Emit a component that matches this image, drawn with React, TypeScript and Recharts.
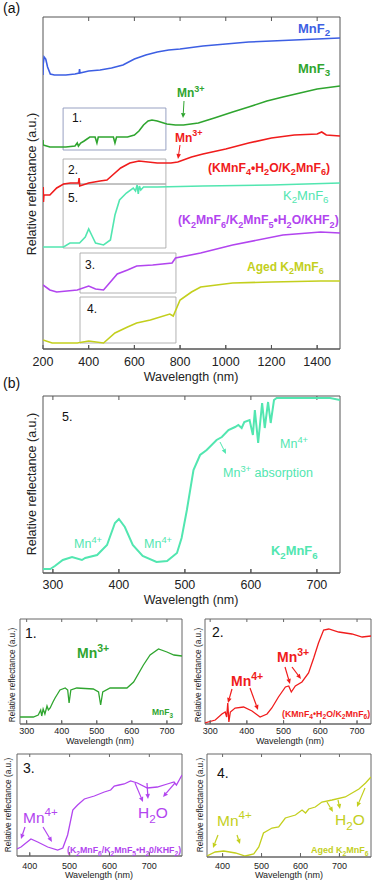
import React from "react";
import { LineChart, Line, XAxis, YAxis, ReferenceArea, ReferenceLine } from "recharts";

const FONT = '"Liberation Sans", Arial, Helvetica, sans-serif';
const BLUE = "#3d5fe3";
const GREEN = "#2fa52f";
const RED = "#f01c1c";
const MINT = "#52e6b0";
const PURPLE = "#b245ef";
const OLIVE = "#c3cf1d";

// (a) full range: [wavelength nm, relative reflectance (offset, a.u.)]
const aTicks = [200, 400, 600, 800, 1000, 1200, 1400];
const aMnF2 = [[200,27.4],[201,28.5],[205,29.2],[212,29.0],[220,28.2],[232,27.5],[250,27.4],[300,27.4],[340,27.5],[358,27.6],[360,28.0],[362,27.6],[400,27.8],[450,27.9],[500,28.1],[550,28.4],[600,29.0],[650,29.4],[700,29.7],[750,29.9],[800,30.0],[900,30.3],[1000,30.5],[1100,30.7],[1200,30.8],[1300,30.9],[1400,31.0],[1500,31.1]];
const aMnF3 = [[200,20.9],[201,20.4],[230,20.2],[300,20.2],[340,20.3],[350,20.6],[355,20.3],[365,20.6],[380,20.8],[405,21.2],[428,21.2],[436,20.6],[442,21.2],[480,21.2],[508,21.2],[515,20.6],[522,21.2],[570,21.2],[600,21.4],[620,21.8],[640,22.4],[660,22.8],[677,22.9],[700,22.8],[742,22.5],[780,22.4],[815,22.4],[880,22.6],[950,23.1],[1030,23.7],[1100,24.2],[1180,24.8],[1250,25.2],[1325,25.6],[1400,26.0],[1500,26.3]];
const aKMnF4 = [[200,15.4],[201,16.2],[202,14.7],[204,15.4],[230,15.4],[260,16.1],[290,16.5],[320,16.6],[355,16.6],[358,17.1],[361,16.3],[400,16.6],[450,16.8],[480,16.9],[500,17.3],[540,18.1],[580,18.6],[620,18.8],[700,18.6],[760,18.6],[790,18.7],[850,19.2],[900,19.5],[1000,20.0],[1100,20.6],[1200,21.1],[1300,21.4],[1400,21.5],[1420,21.7],[1440,21.4],[1500,21.3]];
const aK2MnF6 = [[200,10.2],[290,10.2],[318,10.6],[360,10.6],[385,11.2],[400,12.0],[415,11.3],[430,10.6],[465,10.4],[495,10.9],[515,13.4],[535,14.9],[565,15.6],[595,16.1],[605,15.8],[612,16.4],[617,15.5],[622,16.3],[628,15.9],[640,16.2],[700,16.2],[900,16.3],[1200,16.4],[1500,16.6]];
const aMixed = [[200,6.4],[230,5.9],[260,5.7],[350,5.9],[400,6.3],[430,6.0],[465,5.9],[495,6.7],[525,7.5],[570,7.9],[610,8.3],[680,8.4],[765,8.6],[780,9.1],[890,9.6],[1030,10.4],[1250,11.4],[1415,11.7],[1500,11.6]];
const aAged = [[200,0.9],[240,0.6],[350,0.6],[400,0.8],[465,0.6],[515,1.6],[570,2.2],[610,2.6],[670,2.9],[755,3.5],[770,3.3],[800,4.9],[850,5.7],[890,6.2],[1030,6.6],[1200,6.7],[1415,6.8],[1500,6.8]];
// zoom windows drawn in (a): [nm from, nm to, low, high]
const zoomBoxes = [[288,738,19.9,24.1],[288,738,16.5,19.0],[288,738,10.1,16.5],[362,782,5.6,9.6],[362,782,0.6,5.2]];

// (b) K2MnF6 visible range
const bTicks = [300, 400, 500, 600, 700];
const bK2MnF6 = [[285,0.4],[296,0.4],[303,0.7],[315,1.3],[329,1.6],[344,1.3],[349,1.5],[367,1.8],[382,2.8],[394,5.0],[400,5.4],[409,4.6],[421,2.8],[436,1.7],[457,1.1],[473,1.2],[488,2.0],[495,3.5],[503,6.3],[513,10.3],[523,11.8],[533,12.3],[548,13.3],[556,13.6],[566,14.3],[576,14.6],[581,14.8],[586,14.5],[590,15.1],[598,15.3],[603,13.8],[606,16.3],[611,13.0],[617,17.0],[621,14.5],[626,17.1],[630,15.0],[635,17.3],[639,17.5],[680,17.5],[720,17.5],[735,17.3]];

// small panels 1-4
const sTicks12 = [300, 400, 500, 600, 700];
const sTicks34 = [400, 500, 600, 700];
const p1MnF3 = [[281,0.7],[319,0.7],[333,0.9],[340,1.4],[343,0.8],[347,1.5],[352,1.0],[358,1.8],[362,1.4],[367,1.6],[375,2.2],[381,2.6],[388,3.0],[395,3.4],[410,3.6],[417,3.4],[421,2.1],[426,3.4],[443,3.6],[490,3.5],[505,3.2],[511,1.9],[517,3.2],[538,3.6],[586,3.6],[605,4.2],[633,5.9],[652,6.9],[676,7.5],[700,7.2],[720,6.9],[743,6.8]];
const p2KMnF4 = [[286,0.1],[314,0.4],[332,1.0],[341,1.2],[345,0.7],[348,2.1],[351,0.2],[355,1.2],[368,1.6],[391,1.7],[414,1.3],[436,0.7],[455,1.0],[468,1.6],[486,2.7],[505,3.7],[514,3.8],[521,3.2],[532,3.8],[550,4.2],[568,5.1],[582,6.6],[595,8.1],[609,9.4],[623,9.5],[650,9.2],[686,9.0],[714,8.7],[738,8.8]];
const p3Mixed = [[368,0.7],[378,0.9],[403,1.7],[420,1.4],[445,0.9],[470,0.6],[483,0.8],[495,2.1],[508,4.6],[520,5.1],[537,5.7],[562,6.0],[587,6.4],[603,6.6],[612,7.0],[624,7.1],[637,7.2],[653,7.5],[670,7.3],[695,6.8],[720,6.9],[745,7.2],[762,7.4],[768,7.1],[782,8.1]];
const p4Aged = [[360,0.1],[381,0.5],[403,0.6],[433,0.4],[458,0.1],[480,0.3],[493,1.0],[505,2.4],[527,2.9],[544,3.0],[561,3.9],[587,4.2],[604,4.7],[613,4.4],[621,4.8],[638,5.0],[655,5.5],[681,5.7],[715,6.0],[750,6.8],[767,7.4],[781,8.0]];

type Pts = number[][];
const rows = (pts: Pts) => pts.map(([nm, r]) => ({ nm, r }));

function Panel(props: {
  left: number; top: number; w: number; h: number;
  domain: [number, number]; ticks: number[]; yMax: number;
  series: { pts: Pts; color: string }[];
  lw: number; fs: number; tm: number; axisH: number; frame: string; tickLen: number;
  children?: React.ReactNode;
}) {
  const { left, top, w, h, domain, ticks, yMax, series, lw, fs, tm, axisH, frame, tickLen, children } = props;
  const padX = 20;
  const padT = 3;
  const tl = (yMax * tickLen) / h;
  const inner = ticks.filter((t) => t > domain[0] && t < domain[1]);
  return (
    <div style={{ position: "absolute", left: left - padX, top: top - padT }}>
      <LineChart width={w + padX * 2} height={h + padT + axisH} margin={{ top: padT, right: padX, bottom: 0, left: padX }}>
        <XAxis xAxisId="b" type="number" dataKey="nm" domain={domain} ticks={ticks} interval={0} allowDataOverflow
          height={axisH} tickSize={-4} tickMargin={tm} stroke={frame}
          tick={{ fontSize: fs, fill: "#222", fontFamily: FONT }} />
        <YAxis yAxisId="l" type="number" domain={[0, yMax]} allowDataOverflow width={0} tick={false} tickLine={false} stroke={frame} />
        <ReferenceArea xAxisId="b" yAxisId="l" x1={domain[0]} x2={domain[1]} y1={0} y2={yMax} fill="none"
          stroke={frame} strokeWidth={1} ifOverflow="visible" />
        {inner.map((t) => (
          <ReferenceLine key={`b${t}`} xAxisId="b" yAxisId="l" segment={[{ x: t, y: 0 }, { x: t, y: tl }]}
            stroke={frame} strokeWidth={1} ifOverflow="visible" />
        ))}
        {inner.map((t) => (
          <ReferenceLine key={`t${t}`} xAxisId="b" yAxisId="l" segment={[{ x: t, y: yMax - tl }, { x: t, y: yMax }]}
            stroke={frame} strokeWidth={1} ifOverflow="visible" />
        ))}
        {children}
        {series.map((s, i) => (
          <Line key={i} xAxisId="b" yAxisId="l" data={rows(s.pts)} dataKey="r" type="linear" stroke={s.color}
            strokeWidth={lw} dot={false} activeDot={false} isAnimationActive={false} />
        ))}
      </LineChart>
    </div>
  );
}

function parseChem(s: string) {
  const out: { t: string; k: string }[] = [];
  let buf = "";
  let i = 0;
  while (i < s.length) {
    const c = s[i];
    if (c === "_" || c === "^") {
      if (buf) { out.push({ t: buf, k: "n" }); buf = ""; }
      const k = c === "_" ? "b" : "p";
      if (s[i + 1] === "{") {
        const j = s.indexOf("}", i);
        out.push({ t: s.slice(i + 2, j), k });
        i = j + 1;
      } else {
        out.push({ t: s[i + 1], k });
        i += 2;
      }
      continue;
    }
    buf += c;
    i++;
  }
  if (buf) out.push({ t: buf, k: "n" });
  return out;
}

function Chem({ x, y, s, fs, fill = "#111", bold = false, anchor = "start" }: {
  x: number; y: number; s: string; fs: number; fill?: string; bold?: boolean; anchor?: string;
}) {
  let cur = 0;
  return (
    <text x={x} y={y} fontSize={fs} fill={fill} fontWeight={bold ? 700 : 400} fontFamily={FONT} textAnchor={anchor as any}>
      {parseChem(s).map((p, i) => {
        const target = p.k === "b" ? fs * 0.3 : p.k === "p" ? -fs * 0.42 : 0;
        const dy = target - cur;
        cur = target;
        return <tspan key={i} dy={dy} fontSize={p.k === "n" ? fs : fs * 0.75}>{p.t}</tspan>;
      })}
    </text>
  );
}

function Arrow({ x1, y1, x2, y2, c, w = 1.2, head = 5 }: { x1: number; y1: number; x2: number; y2: number; c: string; w?: number; head?: number }) {
  const a = Math.atan2(y2 - y1, x2 - x1);
  const bx = x2 - head * Math.cos(a);
  const by = y2 - head * Math.sin(a);
  const px = -Math.sin(a) * head * 0.45;
  const py = Math.cos(a) * head * 0.45;
  return (
    <g>
      <line x1={x1} y1={y1} x2={bx} y2={by} stroke={c} strokeWidth={w} />
      <polygon points={`${x2},${y2} ${bx + px},${by + py} ${bx - px},${by - py}`} fill={c} />
    </g>
  );
}

function YLab({ cx, cy, fs }: { cx: number; cy: number; fs: number }) {
  return (
    <text x={0} y={0} transform={`translate(${cx},${cy}) rotate(-90)`} textAnchor="middle" dominantBaseline="central"
      fontSize={fs} fill="#222" fontFamily={FONT}>Relative reflectance (a.u.)</text>
  );
}

function XLab({ cx, y, fs }: { cx: number; y: number; fs: number }) {
  return <text x={cx} y={y} textAnchor="middle" fontSize={fs} fill="#222" fontFamily={FONT}>Wavelength (nm)</text>;
}

export default function App() {
  return (
    <div style={{ position: "relative", width: 374, height: 883, overflow: "hidden", background: "#fff" }}>
      <style>{"body{margin:0}"}</style>

      <Panel left={43} top={17} w={297} h={332} domain={[200, 1500]} ticks={aTicks} yMax={33.2} lw={1.6}
        fs={12.5} tm={12} axisH={24} frame="#555" tickLen={4}
        series={[
          { pts: aMnF2, color: BLUE }, { pts: aMnF3, color: GREEN }, { pts: aKMnF4, color: RED },
          { pts: aK2MnF6, color: MINT }, { pts: aMixed, color: PURPLE }, { pts: aAged, color: OLIVE },
        ]}>
        {zoomBoxes.map(([x1, x2, y1, y2], i) => (
          <ReferenceArea key={i} xAxisId="b" yAxisId="l" x1={x1} x2={x2} y1={y1} y2={y2} fill="none"
            stroke={i === 0 ? "#8c96bb" : "#a9a9a9"} strokeWidth={0.9} />
        ))}
      </Panel>

      <Panel left={43} top={396} w={297} h={177} domain={[285, 735]} ticks={bTicks} yMax={17.7} lw={2}
        fs={12.5} tm={11.5} axisH={24} frame="#555" tickLen={4} series={[{ pts: bK2MnF6, color: MINT }]} />

      <Panel left={20} top={619} w={162} h={105} domain={[281, 743]} ticks={sTicks12} yMax={10.5} lw={1.3}
        fs={9} tm={8} axisH={18} frame="#666" tickLen={3} series={[{ pts: p1MnF3, color: GREEN }]} />
      <Panel left={205} top={619} w={166} h={105} domain={[286, 738]} ticks={sTicks12} yMax={10.5} lw={1.3}
        fs={9} tm={8} axisH={18} frame="#666" tickLen={3} series={[{ pts: p2KMnF4, color: RED }]} />
      <Panel left={17} top={754} w={165} h={102} domain={[368, 782]} ticks={sTicks34} yMax={10.2} lw={1.3}
        fs={9} tm={11} axisH={20} frame="#666" tickLen={3} series={[{ pts: p3Mixed, color: PURPLE }]} />
      <Panel left={207} top={754} w={164} h={103} domain={[360, 781]} ticks={sTicks34} yMax={10.3} lw={1.3}
        fs={9} tm={10} axisH={20} frame="#666" tickLen={3} series={[{ pts: p4Aged, color: OLIVE }]} />

      <svg width={374} height={883} style={{ position: "absolute", left: 0, top: 0, pointerEvents: "none" }}>
        {/* (a) */}
        <Chem x={3} y={13} s="(a)" fs={14} />
        <YLab cx={32} cy={184} fs={12.5} />
        <XLab cx={191} y={380.5} fs={12.5} />
        <Chem x={298} y={32.5} s="MnF_2" fs={13} fill={BLUE} bold />
        <Chem x={298} y={72.5} s="MnF_3" fs={13} fill={GREEN} bold />
        <Chem x={177} y={97} s="Mn^{3+}" fs={12} fill={GREEN} bold />
        <Arrow x1={184} y1={101} x2={183} y2={118} c={GREEN} w={1} head={5} />
        <Chem x={175} y={141.5} s="Mn^{3+}" fs={12} fill={RED} bold />
        <Arrow x1={180} y1={145} x2={178} y2={159} c={RED} w={1} head={5} />
        <Chem x={208} y={171.5} s="(KMnF_4•H_2O/K_2MnF_6)" fs={12.2} fill={RED} bold />
        <Chem x={283} y={199.5} s="K_2MnF_6" fs={13} fill={MINT} />
        <Chem x={178} y={224} s="(K_2MnF_6/K_2MnF_5•H_2O/KHF_2)" fs={12.2} fill={PURPLE} bold />
        <Chem x={247} y={270.5} s="Aged K_2MnF_6" fs={12} fill={OLIVE} bold />
        <Chem x={72} y={122} s="1." fs={12} />
        <Chem x={68} y={173.5} s="2." fs={12} />
        <Chem x={68} y={201.5} s="5." fs={12} />
        <Chem x={85} y={269} s="3." fs={12} />
        <Chem x={87} y={313} s="4." fs={12} />

        {/* (b) */}
        <Chem x={3} y={388} s="(b)" fs={14} />
        <YLab cx={32} cy={484} fs={12.5} />
        <XLab cx={191} y={604} fs={12.5} />
        <Chem x={62} y={421} s="5." fs={12.5} />
        <Chem x={280} y={448} s="Mn^{4+}" fs={12.5} fill={MINT} />
        <Arrow x1={220} y1={442} x2={226} y2={454} c={MINT} w={1} head={5} />
        <Chem x={223} y={477} s="Mn^{3+} absorption" fs={12.5} fill={MINT} />
        <Chem x={74} y={548} s="Mn^{4+}" fs={12.5} fill={MINT} />
        <Chem x={144} y={548} s="Mn^{4+}" fs={12.5} fill={MINT} />
        <Chem x={271} y={555} s="K_2MnF_6" fs={12.9} fill={MINT} bold />

        {/* 1. */}
        <YLab cx={12} cy={675} fs={8.3} />
        <XLab cx={100} y={744} fs={9} />
        <Chem x={25} y={638} s="1." fs={14} />
        <Chem x={77} y={657.5} s="Mn^{3+}" fs={14} fill={GREEN} bold />
        <Chem x={152} y={715} s="MnF_3" fs={8.5} fill={GREEN} bold />

        {/* 2. */}
        <YLab cx={198} cy={675} fs={8.3} />
        <XLab cx={290} y={744} fs={9} />
        <Chem x={212} y={637} s="2." fs={14} />
        <Chem x={277} y={662} s="Mn^{3+}" fs={14} fill={RED} bold />
        <Chem x={231} y={686} s="Mn^{4+}" fs={14} fill={RED} bold />
        <Arrow x1={232} y1={689} x2={228} y2={703} c={RED} />
        <Arrow x1={250} y1={688} x2={258} y2={710} c={RED} />
        <Arrow x1={285} y1={667} x2={290} y2={684} c={RED} />
        <Arrow x1={292} y1={667} x2={301} y2={679} c={RED} />
        <Chem x={282} y={716.5} s="(KMnF_4•H_2O/K_2MnF_6)" fs={8.8} fill={RED} bold />

        {/* 3. */}
        <YLab cx={8} cy={805} fs={8.3} />
        <XLab cx={99} y={878} fs={9} />
        <Chem x={23} y={773} s="3." fs={14} />
        <Chem x={23} y={822.5} s="Mn^{4+}" fs={15.5} fill={PURPLE} />
        <Chem x={138} y={818} s="H_2O" fs={15.5} fill={PURPLE} />
        <Arrow x1={25} y1={827} x2={21} y2={839} c={PURPLE} />
        <Arrow x1={43} y1={827} x2={52} y2={842} c={PURPLE} />
        <Arrow x1={135} y1={783} x2={143} y2={802} c={PURPLE} />
        <Arrow x1={147} y1={783} x2={148} y2={799} c={PURPLE} />
        <Arrow x1={175} y1={783} x2={163} y2={797} c={PURPLE} />
        <Chem x={67} y={853} s="(K_2MnF_6/K_2MnF_5•H_20/KHF_2)" fs={8.8} fill={PURPLE} bold />

        {/* 4. */}
        <YLab cx={200} cy={805} fs={8.3} />
        <XLab cx={289} y={878} fs={9} />
        <Chem x={217} y={778} s="4." fs={14} />
        <Chem x={217} y={826} s="Mn^{4+}" fs={15.5} fill={OLIVE} />
        <Chem x={335} y={825} s="H_2O" fs={15.5} fill={OLIVE} />
        <Arrow x1={218} y1={835} x2={213} y2={848} c={OLIVE} />
        <Arrow x1={237} y1={835} x2={240} y2={844} c={OLIVE} />
        <Arrow x1={327} y1={802} x2={333} y2={812} c={OLIVE} />
        <Arrow x1={338} y1={800} x2={340} y2={809} c={OLIVE} />
        <Arrow x1={365} y1={788} x2={357} y2={807} c={OLIVE} />
        <Chem x={311} y={853} s="Aged K_2MnF_6" fs={9} fill={OLIVE} bold />
      </svg>
    </div>
  );
}
